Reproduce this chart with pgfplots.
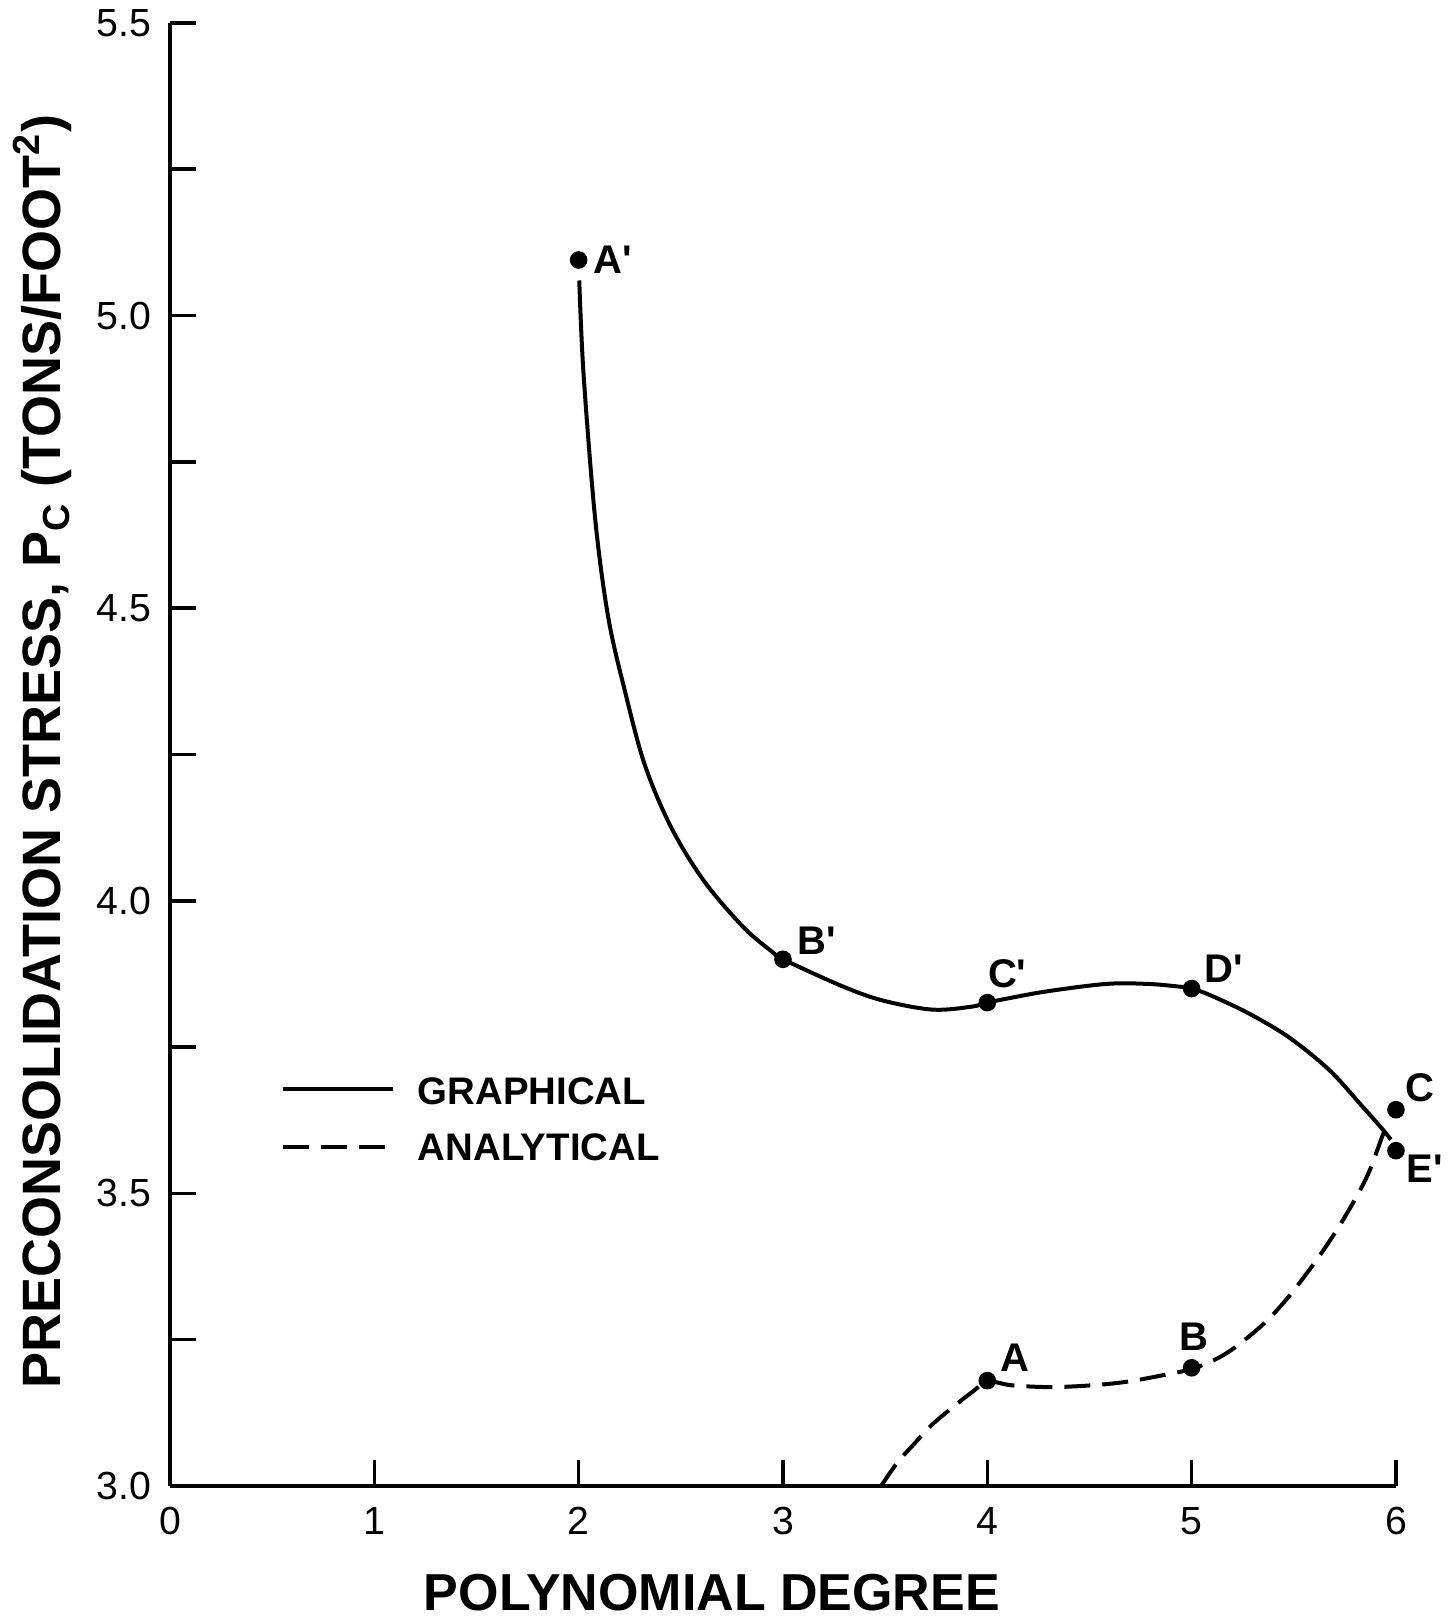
\documentclass[border=0pt]{standalone}
\usepackage{fontspec}
\setmainfont{Liberation Sans}
\usepackage{pgfplots}
\pgfplotsset{compat=1.18}
\newcommand{\pr}{\textquotesingle}
\begin{document}
\begin{tikzpicture}
\useasboundingbox (-42.5pt,-33pt) rectangle (321.25pt,371.5pt);
\begin{axis}[
  at={(0pt,0pt)}, anchor=south west,
  scale only axis, width=306.5pt, height=365.75pt,
  xmin=0, xmax=6, ymin=3, ymax=5.5,
  enlargelimits=false, clip=false,
  axis lines=left,
  axis line style={-, line width=0.9pt},
  x axis line style={-}, y axis line style={-},
  tick align=inside, major tick length=6.5pt, minor tick length=6.5pt,
  tick style={line width=0.9pt, black},
  xtick={0,1,2,3,4,5,6},
  ytick={3,3.5,4,4.5,5,5.5},
  minor ytick={3.25,3.75,4.25,4.75,5.25},
  /pgf/number format/assume math mode=true,
  x tick label style={font=\fontsize{9.8}{11}\selectfont, anchor=north, inner sep=0pt, yshift=-5.2pt},
  y tick label style={font=\fontsize{9.8}{11}\selectfont, anchor=east, inner sep=0pt, xshift=-4.5pt,
     /pgf/number format/fixed, /pgf/number format/fixed zerofill, /pgf/number format/precision=1},
  xlabel={POLYNOMIAL DEGREE},
  xlabel style={at={(axis description cs:0.442,-0.0731)}, anchor=center, inner sep=0pt,
     font=\fontsize{13}{15}\selectfont\bfseries},
  ylabel={PRECONSOLIDATION STRESS, P\textsubscript{C} (TONS/FOOT\textsuperscript{2})},
  ylabel style={at={(axis description cs:-0.104,0.502)}, anchor=center, inner sep=0pt,
     font=\fontsize{13.5}{15}\selectfont\bfseries},
]
% Graphical (solid)
\addplot[black, line width=1pt, smooth, tension=0.55] coordinates {
(2.003,5.060) (2.024,4.900) (2.081,4.652) (2.145,4.484) (2.226,4.359) (2.323,4.233)
(2.452,4.126) (2.613,4.034) (2.806,3.955) (2.950,3.912) (3.0,3.900) (3.297,3.853)
(3.495,3.829) (3.733,3.814) (3.921,3.819) (4.0,3.826) (4.069,3.831) (4.287,3.845)
(4.584,3.858) (4.782,3.858) (4.921,3.854) (5.0,3.850) (5.089,3.839) (5.277,3.808)
(5.475,3.767) (5.673,3.711) (5.832,3.650) (5.931,3.611) (5.975,3.592)
};
% Analytical (dashed)
\addplot[black, line width=1pt, smooth, tension=0.55, dash pattern=on 6.5pt off 3pt] coordinates {
(3.48,3.000) (3.56,3.040) (3.65,3.075) (3.73,3.105) (3.85,3.140) (3.935,3.163)
(4.0,3.179) (4.12,3.172) (4.31,3.169) (4.51,3.172) (4.68,3.178) (4.84,3.188)
(5.0,3.200) (5.126,3.218) (5.228,3.241) (5.364,3.281) (5.483,3.327) (5.619,3.390)
(5.738,3.453) (5.857,3.528) (5.937,3.601) (5.970,3.624)
};
% points
\addplot[only marks, mark=*, mark size=2pt, black] coordinates {
(2,5.095) (3,3.900) (4,3.826) (5,3.850) (6,3.573) (6,3.643) (4,3.180) (5,3.202)
};
% legend samples
\addplot[black, line width=1pt] coordinates {(0.553,3.679) (1.092,3.679)};
\addplot[black, line width=1pt, dash pattern=on 6.5pt off 3pt] coordinates {(0.553,3.579) (1.092,3.579)};
\node[anchor=west, inner sep=0pt, font=\fontsize{9.6}{11}\selectfont\bfseries] at (axis cs:1.209,3.675) {GRAPHICAL};
\node[anchor=west, inner sep=0pt, font=\fontsize{9.6}{11}\selectfont\bfseries] at (axis cs:1.209,3.578) {ANALYTICAL};
% point labels
\begin{scope}[every node/.style={inner sep=0pt, font=\fontsize{10}{12}\selectfont\bfseries}]
\node[anchor=west, xshift=3.6pt] at (axis cs:2,5.095) {A\pr};
\node[anchor=south west, xshift=3.4pt, yshift=1pt] at (axis cs:3,3.900) {B\pr};
\node[anchor=south west, xshift=0pt, yshift=3.5pt] at (axis cs:4,3.826) {C\pr};
\node[anchor=south west, xshift=3pt, yshift=1.25pt] at (axis cs:5,3.850) {D\pr};
\node[anchor=north west, xshift=2.5pt, yshift=-1pt] at (axis cs:6,3.573) {E\pr};
\node[anchor=south west, xshift=2.25pt, yshift=1.8pt] at (axis cs:6,3.643) {C};
\node[anchor=south west, xshift=3pt, yshift=2pt] at (axis cs:4,3.180) {A};
\node[anchor=south, xshift=0.5pt, yshift=4pt] at (axis cs:5,3.202) {B};
\end{scope}
\end{axis}
\end{tikzpicture}
\end{document}
